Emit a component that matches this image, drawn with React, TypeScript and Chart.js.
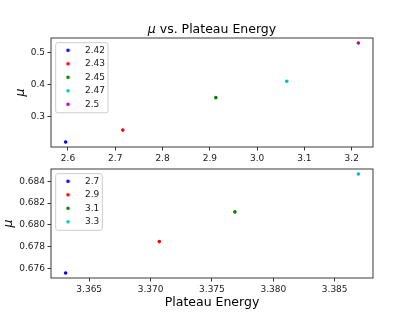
import React, { useEffect, useRef } from "react";
import { Chart, registerables } from "chart.js";

Chart.register(...registerables);

// ---- data ----
const topSeries = ["2.42", "2.43", "2.45", "2.47", "2.5"];
const topEnergy = [2.5951, 2.716, 2.9127, 3.0626, 3.214];
const topMu = [0.2197, 0.257, 0.3585, 0.41, 0.5296];
const topColors = ["#0000ff", "#ff0000", "#008000", "#00bfbf", "#bf00bf"];

const bottomSeries = ["2.7", "2.9", "3.1", "3.3"];
const bottomEnergy = [3.36308, 3.37071, 3.37687, 3.38693];
const bottomMu = [0.67557, 0.67846, 0.68119, 0.68468];
const bottomColors = ["#0000ff", "#ff0000", "#008000", "#00bfbf"];

const muSymbol = "μ";
const titleRest = " vs. Plateau Energy";
const xAxisTitle = "Plateau Energy";

const FAMILY = "'DejaVu Sans', sans-serif";
const TEXT = "#1a1a1a";

function paddedRange(values: number[]) {
  const mn = Math.min(...values);
  const mx = Math.max(...values);
  const m = (mx - mn) * 0.05;
  return { min: mn - m, max: mx + m };
}

function dotImage(color: string) {
  const c = document.createElement("canvas");
  c.width = 5;
  c.height = 5;
  const ctx = c.getContext("2d")!;
  ctx.fillStyle = color;
  ctx.beginPath();
  ctx.arc(2.5, 2.5, 1.8, 0, Math.PI * 2);
  ctx.fill();
  return c;
}

const framePlugin = {
  id: "frame",
  beforeDraw(chart: any) {
    const ca = chart.chartArea;
    const ctx = chart.ctx;
    const lg = chart.legend;
    if (lg) {
      const h = lg.height;
      lg.top = ca.top;
      lg.bottom = ca.top + h;
    }
    const n = chart.data.datasets.length;
    ctx.save();
    ctx.font = `9px ${FAMILY}`;
    let maxW = 0;
    chart.data.datasets.forEach((d: any) => {
      maxW = Math.max(maxW, ctx.measureText(d.label).width);
    });
    const left = ca.left + 4.7;
    const top = ca.top + 4.7;
    const right = ca.left + 34 + maxW + 3;
    const bottom = ca.top + 12.3 + (n - 1) * 13.5 + 8.5;
    ctx.fillStyle = "rgba(255,255,255,0.8)";
    ctx.strokeStyle = "#cccccc";
    ctx.lineWidth = 1;
    ctx.beginPath();
    (ctx as any).roundRect(left, top, right - left, bottom - top, 2);
    ctx.fill();
    ctx.stroke();
    ctx.restore();
  },
  afterDraw(chart: any) {
    const ca = chart.chartArea;
    const ctx = chart.ctx;
    ctx.save();
    ctx.strokeStyle = "#3a3a3a";
    ctx.lineWidth = 1;
    ctx.strokeRect(ca.left, ca.top, ca.right - ca.left, ca.bottom - ca.top);
    ctx.restore();
  },
};

const titlePlugin = {
  id: "muTitle",
  afterDraw(chart: any) {
    const ca = chart.chartArea;
    const ctx = chart.ctx;
    ctx.save();
    const italic = `italic 12.5px ${FAMILY}`;
    const normal = `12.5px ${FAMILY}`;
    ctx.font = italic;
    const w1 = ctx.measureText(muSymbol).width;
    ctx.font = normal;
    const w2 = ctx.measureText(titleRest).width;
    const cx = (ca.left + ca.right) / 2;
    const x0 = cx - (w1 + w2) / 2;
    const y = 32.5;
    ctx.fillStyle = "#000";
    ctx.textBaseline = "alphabetic";
    ctx.textAlign = "left";
    ctx.font = italic;
    ctx.fillText(muSymbol, x0, y);
    ctx.font = normal;
    ctx.fillText(titleRest, x0 + w1, y);
    ctx.restore();
  },
};

function buildConfig(opts: {
  labels: string[];
  xs: number[];
  ys: number[];
  colors: string[];
  xStep: number;
  yStep: number;
  xDec: number;
  yDec: number;
  padding: { top: number; right: number; bottom: number; left: number };
  xHeight: number;
  showXTitle: boolean;
  yTitleOffset: number;
  withTitle: boolean;
}): any {
  const xr = paddedRange(opts.xs);
  const yr = paddedRange(opts.ys);
  const datasets = opts.labels.map((label, i) => ({
    label,
    data: [{ x: opts.xs[i], y: opts.ys[i] }],
    backgroundColor: opts.colors[i],
    borderColor: opts.colors[i],
    pointRadius: 1.8,
    pointHoverRadius: 1.8,
    pointBorderWidth: 0,
    showLine: false,
  }));
  const tickGrid = {
    display: true,
    drawOnChartArea: false,
    drawTicks: true,
    tickLength: 3.5,
    tickColor: "#333",
    tickWidth: 1,
  };
  return {
    type: "scatter",
    data: { datasets },
    options: {
      responsive: false,
      animation: false,
      devicePixelRatio: 1,
      layout: { padding: opts.padding },
      events: [],
      scales: {
        x: {
          type: "linear",
          min: xr.min,
          max: xr.max,
          grid: tickGrid,
          border: { display: false },
          ticks: {
            stepSize: opts.xStep,
            includeBounds: false,
            autoSkip: false,
            maxRotation: 0,
            padding: 3,
            color: TEXT,
            font: { family: FAMILY, size: 9 },
            callback: (v: number) => Number(v).toFixed(opts.xDec),
          },
          title: {
            display: opts.showXTitle,
            text: xAxisTitle,
            color: "#000",
            font: { family: FAMILY, size: 12.5 },
            padding: { top: 0, bottom: 18 },
          },
          afterFit: (s: any) => {
            s.height = opts.xHeight;
          },
        },
        y: {
          type: "linear",
          min: yr.min,
          max: yr.max,
          grid: tickGrid,
          border: { display: false },
          ticks: {
            stepSize: opts.yStep,
            includeBounds: false,
            autoSkip: false,
            padding: 2.5,
            color: TEXT,
            font: { family: FAMILY, size: 9 },
            callback: (v: number) => Number(v).toFixed(opts.yDec),
          },
          title: {
            display: true,
            text: muSymbol,
            color: "#000",
            font: { family: FAMILY, size: 12.5, style: "italic" },
            padding: { top: opts.yTitleOffset, bottom: 0 },
          },
          afterFit: (s: any) => {
            s.width = 51;
          },
        },
      },
      plugins: {
        tooltip: { enabled: false },
        title: { display: false },
        legend: {
          display: true,
          position: "chartArea",
          align: "start",
          title: {
            display: true,
            text: " ",
            font: { size: 1, lineHeight: 1 },
            padding: { top: 0, bottom: 2.3 },
          },
          labels: {
            usePointStyle: true,
            pointStyleWidth: 25,
            padding: 4.5,
            color: TEXT,
            font: { family: FAMILY, size: 9 },
            generateLabels: (chart: any) =>
              chart.data.datasets.map((ds: any, i: number) => ({
                text: ds.label,
                pointStyle: dotImage(ds.backgroundColor),
                fillStyle: ds.backgroundColor,
                strokeStyle: ds.backgroundColor,
                lineWidth: 0,
                hidden: false,
                datasetIndex: i,
                fontColor: TEXT,
              })),
          },
        },
      },
    },
    plugins: opts.withTitle ? [framePlugin, titlePlugin] : [framePlugin],
  };
}

export default function App() {
  const topRef = useRef<HTMLCanvasElement>(null);
  const botRef = useRef<HTMLCanvasElement>(null);

  useEffect(() => {
    const c1 = new Chart(
      topRef.current!,
      buildConfig({
        labels: topSeries,
        xs: topEnergy,
        ys: topMu,
        colors: topColors,
        xStep: 0.1,
        yStep: 0.1,
        xDec: 1,
        yDec: 1,
        padding: { top: 38, right: 42, bottom: 161, left: 0 },
        xHeight: 20,
        showXTitle: false,
        yTitleOffset: 13.3,
        withTitle: true,
      })
    );
    const c2 = new Chart(
      botRef.current!,
      buildConfig({
        labels: bottomSeries,
        xs: bottomEnergy,
        ys: bottomMu,
        colors: bottomColors,
        xStep: 0.005,
        yStep: 0.002,
        xDec: 3,
        yDec: 3,
        padding: { top: 169, right: 42, bottom: 0, left: 0 },
        xHeight: 50,
        showXTitle: true,
        yTitleOffset: 0.8,
        withTitle: false,
      })
    );
    return () => {
      c1.destroy();
      c2.destroy();
    };
  }, []);

  return (
    <div
      style={{
        position: "fixed",
        left: 0,
        top: 0,
        width: 415,
        height: 328,
        background: "#fff",
      }}
    >
      <canvas
        ref={topRef}
        width={415}
        height={328}
        style={{ position: "absolute", left: 0, top: 0 }}
      />
      <canvas
        ref={botRef}
        width={415}
        height={328}
        style={{ position: "absolute", left: 0, top: 0 }}
      />
    </div>
  );
}
